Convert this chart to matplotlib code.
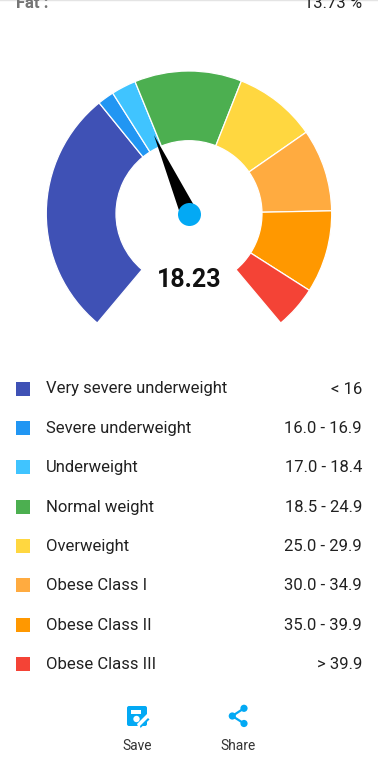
import numpy as np
import matplotlib
matplotlib.use("Agg")
import matplotlib.pyplot as plt
from matplotlib.patches import Rectangle, Circle, FancyBboxPatch, Polygon

plt.rcParams['font.family'] = ['Roboto', 'DejaVu Sans']

# Data
categories = ["Very severe underweight", "Severe underweight", "Underweight", "Normal weight",
              "Overweight", "Obese Class I", "Obese Class II", "Obese Class III"]
ranges = ["< 16", "16.0 - 16.9", "17.0 - 18.4", "18.5 - 24.9",
          "25.0 - 29.9", "30.0 - 34.9", "35.0 - 39.9", "> 39.9"]
edges = [1.0, 16.0, 17.0, 18.5, 25.0, 30.0, 35.0, 40.0, 42.6]
colors = ["#3F51B5", "#2196F3", "#40C4FF", "#4CAF50", "#FFD740", "#FFAB40", "#FF9800", "#F44336"]
value = 18.23
value_label = "18.23"
fat_label = "Fat :"
fat_value = "13.73 %"
button_labels = ["Save", "Share"]

W, H = 378, 768
fig = plt.figure(figsize=(W / 100, H / 100), dpi=100, facecolor="white")
px = 0.72  # points per pixel

# Overlay in pixel coordinates
ov = fig.add_axes([0, 0, 1, 1])
ov.set_xlim(0, W)
ov.set_ylim(H, 0)
ov.axis("off")

# Gauge in a polar axes
cx, cy, R = 189.0, 213.7, 150.0
inner, outer = 73.0, 142.7
pol = fig.add_axes([(cx - R) / W, 1 - (cy + R) / H, 2 * R / W, 2 * R / H], projection="polar")
pol.patch.set_alpha(0)
pol.set_theta_zero_location("N")
pol.set_theta_direction(-1)
pol.set_rlim(0, R)
pol.axis("off")

vmin, vmax = edges[0], edges[-1]
def to_theta(v):
    return np.radians(-140 + (v - vmin) / (vmax - vmin) * 280)

for lo, hi, c in zip(edges[:-1], edges[1:], colors):
    t0, t1 = to_theta(lo), to_theta(hi)
    pol.bar((t0 + t1) / 2, outer - inner, width=t1 - t0, bottom=inner,
            color=c, edgecolor="white", linewidth=0.9, zorder=2)

# Needle
tv = to_theta(value)
pol.fill([tv, tv - np.pi / 2, tv + np.pi / 2], [86, 8.5, 8.5], color="black", lw=0, zorder=3)
pol.scatter([0], [0], s=(23 * px) ** 2, color="#03A9F4", lw=0, zorder=4)

ov.text(cx, 280, value_label, ha="center", va="center", fontsize=25 * px,
        fontweight="bold", color="#111111")

# Header
ov.plot([0, W], [0.3, 0.3], color="#E4E4E4", lw=1)
ov.text(16, 4, fat_label, ha="left", va="center", fontsize=16.6 * px, fontweight="bold", color="#757575")
ov.text(362, 4, fat_value, ha="right", va="center", fontsize=16.6 * px, color="#222222")

# Legend
ys = [389, 428.5, 467.8, 507.1, 546.5, 585.8, 625.1, 664.5]
for y, name, rng, c in zip(ys, categories, ranges, colors):
    ov.add_patch(Rectangle((16, y - 7.5), 14, 14, color=c, lw=0))
    ov.text(46, y, name, ha="left", va="center", fontsize=16.6 * px, color="#212121")
    ov.text(362, y, rng, ha="right", va="center", fontsize=16.6 * px, color="#212121")

# Buttons
blue = "#03A9F4"
ov.text(137, 745.5, button_labels[0], ha="center", va="center", fontsize=13.8 * px, color="#333333")
ov.text(238, 745.5, button_labels[1], ha="center", va="center", fontsize=13.8 * px, color="#333333")

# Save icon
ov.add_patch(FancyBboxPatch((127, 706), 20, 20, boxstyle="round,pad=0,rounding_size=2", color=blue, lw=0))
ov.add_patch(Rectangle((131, 709.5), 9.5, 4, color="white", lw=0))
ov.add_patch(Circle((136.5, 719), 3.2, color="white", lw=0))
ov.add_patch(Polygon([(139, 729), (151, 717), (151, 714), (147, 714), (137, 724)], color="white", lw=0))
ov.add_patch(Polygon([(140.5, 728), (149.5, 719.5), (148, 718), (140, 726)], color=blue, lw=0))

# Share icon
pts = [(244, 708.3), (232.3, 716), (244, 723.5)]
ov.plot([pts[0][0], pts[1][0], pts[2][0]], [pts[0][1], pts[1][1], pts[2][1]], color=blue, lw=1.6)
for p in pts:
    ov.add_patch(Circle(p, 3.6, color=blue, lw=0))

fig.savefig("out.png", dpi=100, facecolor="white")
